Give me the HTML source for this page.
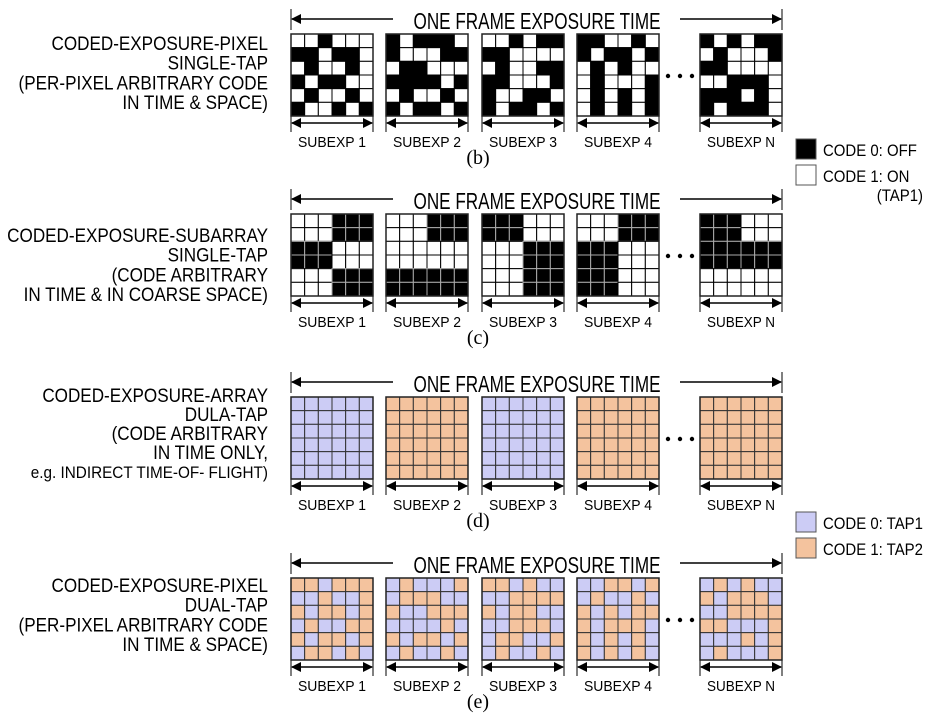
<!DOCTYPE html>
<html><head><meta charset="utf-8"><style>
html,body{margin:0;padding:0;background:#fff;}
svg{display:block;font-family:"Liberation Sans",sans-serif;}
</style></head><body>
<svg id="fig" width="946" height="728" viewBox="0 0 946 728" xmlns="http://www.w3.org/2000/svg">
<defs>
<marker id="ah" markerWidth="10" markerHeight="10" refX="9" refY="5" orient="auto-start-reverse" markerUnits="userSpaceOnUse"><path d="M0,0 L10,5 L0,10 z" fill="#000"/></marker>
</defs>
</svg>
<script>
// grid codes: '1' = ON / TAP2 (white / peach), '0' = OFF / TAP1 (black / lavender)
const codesB = [
 ["110111","001001","101101","010011","101101","011010"],
 ["010001","011100","100111","000010","101101","010010"],
 ["110100","001111","101100","001110","011001","010010"],
 ["001101","010010","101011","101110","101010","101010"],
 ["010100","101110","001111","110001","000101","010001"]
];
const blocksC = [
 [[1,0],[0,1],[1,0]],
 [[1,0],[1,1],[0,0]],
 [[0,1],[1,0],[1,0]],
 [[1,0],[0,1],[0,1]],
 [[0,1],[0,0],[1,1]]
];
const tapsD = [0,1,0,1,1];
const codesE = [
 ["110111","001001","101101","010011","101101","011010"],
 ["010001","011100","100111","000010","101101","010010"],
 ["110100","001111","101100","001110","011001","010010"],
 ["001101","010010","101011","101110","101010","101010"],
 ["010100","101110","001111","110001","000101","010001"]
];
const subLabels = ["SUBEXP 1","SUBEXP 2","SUBEXP 3","SUBEXP 4","SUBEXP N"];
const gridX = [291,386,482,577,700];
const G = 82, C = G/6;
const LAV = "#ccccf5", PEACH = "#f4c39e";
const svg = document.getElementById('fig');
const NS = "http://www.w3.org/2000/svg";
function mk(tag, attrs, parent){const e=document.createElementNS(NS,tag);for(const k in attrs)e.setAttribute(k,attrs[k]);(parent||svg).appendChild(e);return e;}

function rowFrame(y0, letter, name){
  const g = mk('g',{});
  
  
  const ay = y0-15;
  mk('line',{x1:291,y1:y0-25,x2:291,y2:y0-4,stroke:'#000','stroke-width':1},g);
  mk('line',{x1:782,y1:y0-25,x2:782,y2:y0-4,stroke:'#000','stroke-width':1},g);
  mk('line',{x1:393,y1:ay,x2:292,y2:ay,stroke:'#000','stroke-width':1.5,'marker-end':'url(#ah)'},g);
  mk('line',{x1:680,y1:ay,x2:781,y2:ay,stroke:'#000','stroke-width':1.5,'marker-end':'url(#ah)'},g);
  const t = mk('text',{x:537,y:y0-5,'text-anchor':'middle','font-size':23,textLength:247,lengthAdjust:'spacingAndGlyphs'},g);
  t.textContent = "ONE FRAME EXPOSURE TIME";
  
  
  gridX.forEach((x,i)=>{
    const sy = y0+89;
    mk('line',{x1:x,y1:y0+G,x2:x,y2:y0+98,stroke:'#000','stroke-width':1},g);
    mk('line',{x1:x+G,y1:y0+G,x2:x+G,y2:y0+98,stroke:'#000','stroke-width':1},g);
    mk('line',{x1:x+G/2,y1:sy,x2:x+1,y2:sy,stroke:'#000','stroke-width':1.5,'marker-end':'url(#ah)'},g);
    mk('line',{x1:x+G/2,y1:sy,x2:x+G-1,y2:sy,stroke:'#000','stroke-width':1.5,'marker-end':'url(#ah)'},g);
    const s = mk('text',{x:x+G/2,y:y0+113,'text-anchor':'middle','font-size':15,textLength:68,lengthAdjust:'spacingAndGlyphs'},g);
    s.textContent = subLabels[i];
    
    
  });
  [668,680,692].forEach(cx=>mk('circle',{cx:cx,cy:y0+42,r:2.2,fill:'#000'},g));
  const l = mk('text',{x:478,y:y0+130,'text-anchor':'middle','font-size':20,'font-family':'Liberation Serif, serif'},g);
  l.textContent = '('+letter+')';
  
  
  return g;
}
function drawGrid(g, x, y0, colorFn, lineColorFn){
  const gg = mk('g',{},g);
  
  
  for(let r=0;r<6;r++)for(let c=0;c<6;c++){
    const rc = mk('rect',{x:x+c*C,y:y0+r*C,width:C,height:C,fill:colorFn(r,c),stroke:lineColorFn(r,c),'stroke-width':1},gg);
    
    
  }
  mk('rect',{x:x,y:y0,width:G,height:G,fill:'none',stroke:'#222','stroke-width':1.5},gg);
}
function leftLabel(lines, y, step, name){
  const g = mk('g',{transform:'scale(0.9,1)'});
  
  
  lines.forEach((s,i)=>{
    const t = mk('text',{x:268/0.9,y:y+i*step,'text-anchor':'end','font-size':s.startsWith('e.g.')?17:19},g);
    t.textContent = s;
  });
}

let yb=34, gb=rowFrame(yb,'b','pixel-single-tap');
codesB.forEach((gr,i)=>drawGrid(gb,gridX[i],yb,(r,c)=>gr[r][c]==='1'?'#fff':'#000',()=>'#000'));
let yc=214, gc=rowFrame(yc,'c','subarray-single-tap');
blocksC.forEach((bl,i)=>drawGrid(gc,gridX[i],yc,(r,c)=>bl[Math.floor(r/2)][Math.floor(c/3)]?'#fff':'#000',
  (r,c)=>bl[Math.floor(r/2)][Math.floor(c/3)]?'#000':'#aaa'));
let yd=397, gd=rowFrame(yd,'d','array-dual-tap');
tapsD.forEach((tp,i)=>drawGrid(gd,gridX[i],yd,()=>tp?PEACH:LAV,()=>'#333'));
let ye=578, ge=rowFrame(ye,'e','pixel-dual-tap');
codesE.forEach((gr,i)=>drawGrid(ge,gridX[i],ye,(r,c)=>gr[r][c]==='1'?PEACH:LAV,()=>'#333'));

leftLabel(["CODED-EXPOSURE-PIXEL","SINGLE-TAP","(PER-PIXEL ARBITRARY CODE","IN TIME & SPACE)"],50,19.7,'row-b-description');
leftLabel(["CODED-EXPOSURE-SUBARRAY","SINGLE-TAP","(CODE ARBITRARY","IN TIME & IN COARSE SPACE)"],242,19.7,'row-c-description');
leftLabel(["CODED-EXPOSURE-ARRAY","DULA-TAP","(CODE ARBITRARY ","IN TIME ONLY,","e.g. INDIRECT TIME-OF- FLIGHT)"],402,19,'row-d-description');
leftLabel(["CODED-EXPOSURE-PIXEL","DUAL-TAP","(PER-PIXEL ARBITRARY CODE","IN TIME & SPACE)"],592,19.7,'row-e-description');

function legendEntry(y, fill, text, name){
  const g = mk('g',{});
  
  
  mk('rect',{x:796,y:y,width:20,height:20,fill:fill,stroke:'#555','stroke-width':1},g);
  const t = mk('text',{x:823,y:y+17,'font-size':17,transform:'translate(823,0) scale(0.88,1) translate(-823,0)'},g);
  t.textContent = text;
}
legendEntry(139,'#000','CODE 0: OFF','legend-code0-off');
legendEntry(165,'#fff','CODE 1: ON','legend-code1-on');
const tp1 = mk('text',{x:923,y:201,'text-anchor':'end','font-size':17,transform:'translate(923,0) scale(0.88,1) translate(-923,0)'});
tp1.textContent='(TAP1)';


legendEntry(512,LAV,'CODE 0: TAP1','legend-code0-tap1');
legendEntry(538,PEACH,'CODE 1: TAP2','legend-code1-tap2');
</script>
</body></html>
